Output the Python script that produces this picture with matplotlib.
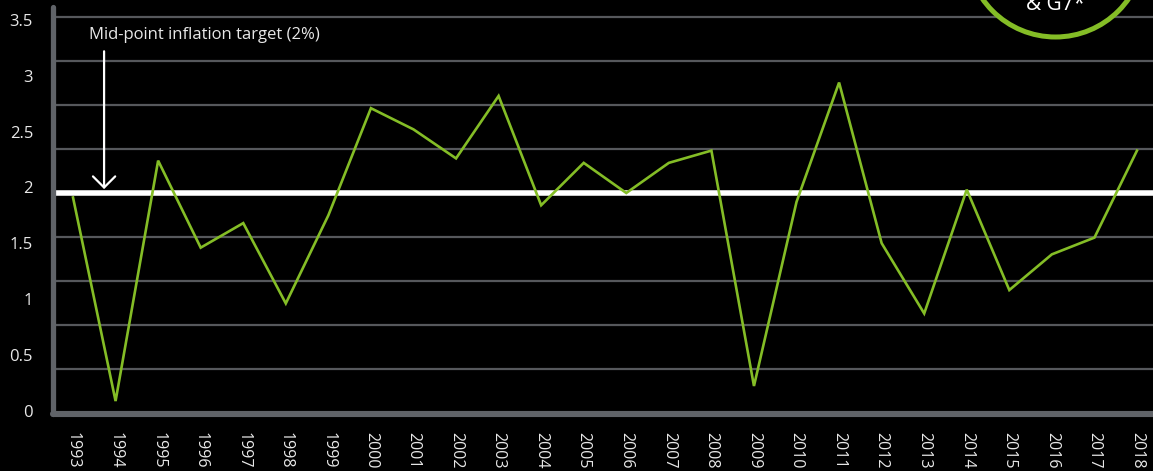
import matplotlib.pyplot as plt
from matplotlib.patches import Ellipse

plt.rcParams['font.family'] = ['Open Sans', 'DejaVu Sans']

# data
years = list(range(1993, 2019))
inflation = [1.91, 0.085, 2.24, 1.46, 1.68, 0.96, 1.75, 2.71, 2.52, 2.26,
             2.82, 1.84, 2.22, 1.95, 2.22, 2.33, 0.22, 1.87, 2.94, 1.50,
             0.87, 1.98, 1.08, 1.40, 1.55, 2.33]
y_ticks = [0, 0.5, 1, 1.5, 2, 2.5, 3, 3.5]
y_ticklabels = ['0', '0.5', '1', '1.5', '2', '2.5', '3', '3.5']
grid_levels = [0.372, 0.766, 1.161, 1.555, 2.344, 2.738, 3.133, 3.527]
target_level = 1.949
target_text = 'Mid-point inflation target (2%)'
badge_text = '& G7*'

GREEN = '#84bd26'
GRID = '#56585c'
AXIS = '#606368'
TEXT = '#e8e8e8'

W, H = 1153, 471
fig = plt.figure(figsize=(W / 100, H / 100), dpi=100, facecolor='black')
ax = fig.add_axes([52.5 / W, (H - 414) / H, (W - 52.5) / W, (414 - 7) / H])
ax.set_facecolor('black')

ax.set_xlim(1992.518, 2018.376)
ax.set_ylim(-0.031, 3.617)

# gridlines (not aligned with the labels, as in the source graphic)
for g in grid_levels:
    ax.axhline(g, color=GRID, lw=1.6, zorder=1)
ax.axhline(target_level, color='white', lw=4, zorder=2)

# series
ax.plot(years, inflation, color=GREEN, lw=1.9, zorder=3,
        solid_joinstyle='miter')

# axis lines
for s in ax.spines.values():
    s.set_visible(False)
ax.plot([0, 0], [0, 1], transform=ax.transAxes, color=AXIS, lw=3.8,
        solid_capstyle='round', clip_on=False, zorder=4)
ax.plot([0, 1.01], [0, 0], transform=ax.transAxes, color=AXIS, lw=4.4,
        solid_capstyle='round', clip_on=False, zorder=4)

# ticks
ax.set_yticks(y_ticks)
ax.set_yticklabels(y_ticklabels)
ax.set_xticks(years)
ax.set_xticklabels([str(y) for y in years], rotation=270)
ax.tick_params(axis='y', length=0, pad=14, labelsize=12, labelcolor=TEXT)
ax.tick_params(axis='x', length=0, pad=13, labelsize=11.5, labelcolor=TEXT)

# annotation
ax.annotate('', xy=(1993.73, 1.985), xytext=(1993.73, 3.22),
            arrowprops=dict(arrowstyle='->,head_length=0.8,head_width=0.8',
                            color='white', lw=1.6, shrinkA=0, shrinkB=0),
            zorder=5)
ax.text(1993.376, 3.366, target_text, color=TEXT, fontsize=12,
        ha='left', va='center', zorder=5)

# badge circle at top-right (round in pixel space)
cx, cy, r = 1055.5, -52, 89
circ = Ellipse((cx / W, 1 - cy / H), 2 * r / W, 2 * r / H,
               transform=fig.transFigure, facecolor='black',
               edgecolor=GREEN, lw=3.6, zorder=10)
fig.patches.append(circ)
fig.text(cx / W, 1 - 10 / H, badge_text, color='white', fontsize=15,
         ha='center', va='baseline', zorder=11)

fig.savefig('out.png', dpi=100, facecolor='black')
